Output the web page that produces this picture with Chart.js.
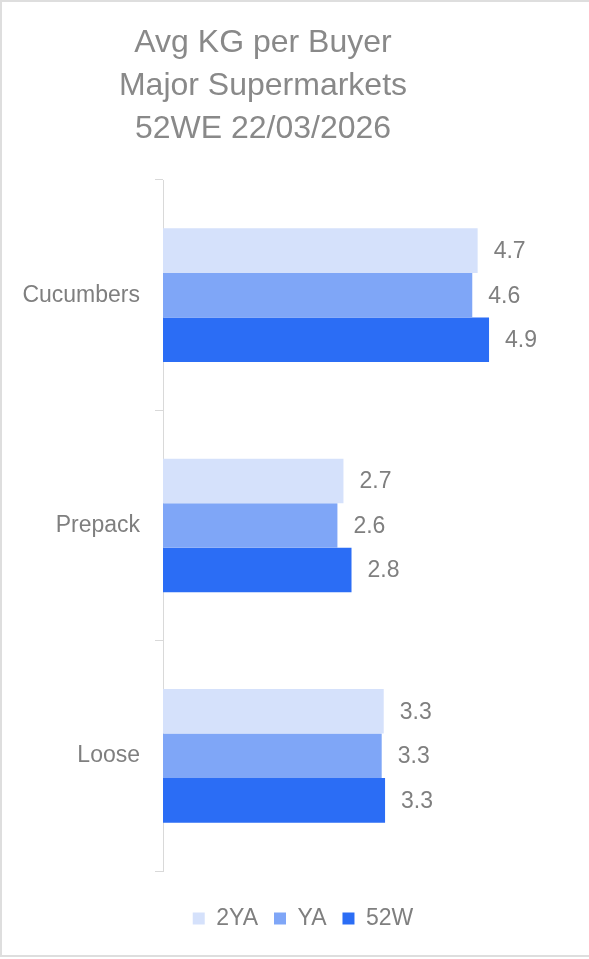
<!DOCTYPE html>
<html>
<head>
<meta charset="utf-8">
<script src="https://cdn.jsdelivr.net/npm/chart.js@4"></script>
<style>
  html, body { margin: 0; padding: 0; background: #fff; }
  canvas { display: block; }
</style>
</head>
<body>
<canvas id="kgChart" width="589" height="959"></canvas>
<script>
const titleLines = ['Avg KG per Buyer', 'Major Supermarkets', '52WE 22/03/2026'];
const categories = ['Cucumbers', 'Prepack', 'Loose'];
const seriesNames = ['2YA', 'YA', '52W'];
const values2YA = [4.69, 2.69, 3.29];
const valuesYA = [4.61, 2.60, 3.26];
const values52W = [4.86, 2.81, 3.31];
const seriesColors = ['#d5e1fb', '#7fa6f7', '#2b6df5'];

const FONT = "'Liberation Sans', Arial, sans-serif";
const GREY = '#7f7f7f';

// white panel, thin grey frame on top, left and bottom
const framePlugin = {
    id: 'frame',
    beforeDraw(chart) {
        const ctx = chart.ctx;
        const w = chart.width, h = chart.height;
        ctx.save();
        ctx.fillStyle = '#fff';
        ctx.fillRect(0, 0, w, h);
        ctx.strokeStyle = '#dedede';
        ctx.lineWidth = 2;
        ctx.beginPath();
        ctx.moveTo(w, 1);
        ctx.lineTo(1, 1);
        ctx.lineTo(1, h - 3);
        ctx.lineTo(w, h - 3);
        ctx.stroke();
        ctx.restore();
    }
};

// three-line heading, sits a bit left of the canvas middle
const headingPlugin = {
    id: 'heading',
    afterDraw(chart) {
        const ctx = chart.ctx;
        ctx.save();
        ctx.font = `32px ${FONT}`;
        ctx.fillStyle = '#898989';
        ctx.textAlign = 'center';
        ctx.textBaseline = 'alphabetic';
        titleLines.forEach((line, i) => ctx.fillText(line, 263, 52 + i * 43));
        ctx.restore();
    }
};

// value printed just past the end of every bar
const valueLabels = {
    id: 'valueLabels',
    afterDatasetsDraw(chart) {
        const ctx = chart.ctx;
        ctx.save();
        ctx.font = `23px ${FONT}`;
        ctx.fillStyle = GREY;
        ctx.textAlign = 'left';
        ctx.textBaseline = 'middle';
        chart.data.datasets.forEach((ds, i) => {
            chart.getDatasetMeta(i).data.forEach((bar, j) => {
                ctx.fillText(ds.data[j].toFixed(1), bar.x + 16, bar.y + 1);
            });
        });
        ctx.restore();
    }
};

new Chart(document.getElementById('kgChart'), {
    type: 'bar',
    data: {
        labels: categories,
        datasets: [
            { label: seriesNames[0], data: values2YA, backgroundColor: seriesColors[0] },
            { label: seriesNames[1], data: valuesYA, backgroundColor: seriesColors[1] },
            { label: seriesNames[2], data: values52W, backgroundColor: seriesColors[2] }
        ]
    },
    options: {
        indexAxis: 'y',
        responsive: false,
        animation: false,
        // right padding below zero pushes the legend centre right of the canvas middle
        layout: { padding: { top: 180, left: 0, right: -17, bottom: 19 } },
        datasets: { bar: { barPercentage: 1, categoryPercentage: 0.58 } },
        scales: {
            x: {
                min: 0,
                max: 6.35,
                // invisible, only keeps a gap above the legend
                afterFit(scale) { scale.height = 20; },
                grid: { display: false },
                border: { display: false },
                ticks: { display: false }
            },
            y: {
                afterFit(scale) { scale.width = 163; },
                grid: { drawOnChartArea: false, color: '#d9d9d9', tickLength: 8, offset: true },
                border: { color: '#d9d9d9', width: 1 },
                ticks: { color: GREY, font: { family: FONT, size: 23 }, padding: 15 }
            }
        },
        plugins: {
            title: { display: false },
            legend: {
                position: 'bottom',
                labels: {
                    boxWidth: 12,
                    boxHeight: 12,
                    padding: 16,
                    color: GREY,
                    font: { family: FONT, size: 23 }
                }
            },
            tooltip: { enabled: false }
        }
    },
    plugins: [framePlugin, headingPlugin, valueLabels]
});
</script>
</body>
</html>
